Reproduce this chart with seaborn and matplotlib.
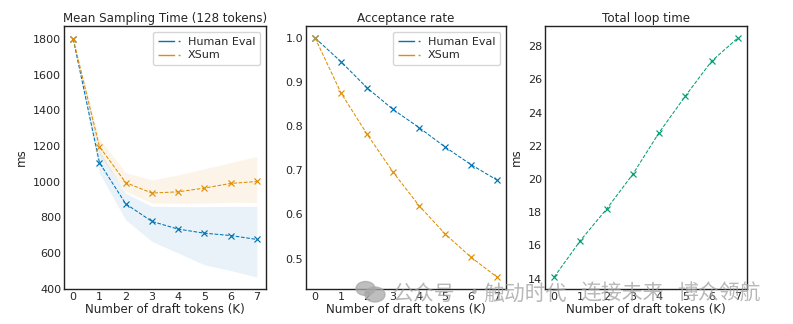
import numpy as np
import pandas as pd
import matplotlib
matplotlib.use("Agg")
import matplotlib.pyplot as plt
from matplotlib.lines import Line2D
from matplotlib.patches import Ellipse
import seaborn as sns

k = [0, 1, 2, 3, 4, 5, 6, 7]

# Mean sampling time (ms)
he_time = [1800, 1107, 876, 777, 734, 711, 698, 676]
he_time_lo = [1800, 1048, 786, 665, 600, 534, 502, 465]
he_time_hi = [1800, 1175, 935, 862, 860, 860, 862, 862]
xs_time = [1800, 1197, 995, 936, 943, 964, 990, 1001]
xs_time_lo = [1800, 1150, 945, 880, 878, 880, 884, 883]
xs_time_hi = [1800, 1240, 1051, 1010, 1038, 1072, 1107, 1141]

# Acceptance rate
he_acc = [1.0, 0.946, 0.887, 0.838, 0.797, 0.753, 0.713, 0.678]
xs_acc = [1.0, 0.875, 0.782, 0.696, 0.620, 0.556, 0.503, 0.458]

# Total loop time (ms)
loop_time = [14.1, 16.3, 18.2, 20.3, 22.8, 25.0, 27.1, 28.5]

series = ["Human Eval", "XSum"]
titles = ["Mean Sampling Time (128 tokens)", "Acceptance rate", "Total loop time"]
xlabel = "Number of draft tokens (K)"
watermark_parts = ["公众号", "·", "触动时代", "连接未来", "博众领航"]

sns.set_theme(style="white")
plt.rcParams["font.family"] = ["DejaVu Sans", "Noto Sans CJK SC"]
pal = sns.color_palette("colorblind")
c_he, c_xs, c_loop = pal[0], pal[1], pal[2]

fig = plt.figure(figsize=(7.93, 3.24), dpi=100)
W, H = 793, 324
def box(l, r, t, b):
    return [l / W, 1 - b / H, (r - l) / W, (b - t) / H]

ax1 = fig.add_axes(box(64, 266, 26, 289))
ax2 = fig.add_axes(box(306, 506, 26, 289))
ax3 = fig.add_axes(box(545, 747, 26, 289))

df_time = pd.DataFrame({"K": k * 2, "ms": he_time + xs_time,
                        "dataset": [series[0]] * 8 + [series[1]] * 8})
df_acc = pd.DataFrame({"K": k * 2, "rate": he_acc + xs_acc,
                       "dataset": [series[0]] * 8 + [series[1]] * 8})
df_loop = pd.DataFrame({"K": k, "ms": loop_time, "dataset": ["loop"] * 8})

dash = (3.5, 1.6)
kw = dict(linewidth=0.75, markersize=5, markeredgewidth=0.85, errorbar=None,
          legend=False)

sns.lineplot(data=df_time, x="K", y="ms", hue="dataset", style="dataset",
             palette=[c_he, c_xs], markers=["x", "x"], dashes=[dash, dash],
             ax=ax1, **kw)
ax1.fill_between(k, he_time_lo, he_time_hi, color=c_he, alpha=0.09, linewidth=0)
ax1.fill_between(k, xs_time_lo, xs_time_hi, color=c_xs, alpha=0.09, linewidth=0)
ax1.set_ylim(398, 1873)

sns.lineplot(data=df_acc, x="K", y="rate", hue="dataset", style="dataset",
             palette=[c_he, c_xs], markers=["x", "x"], dashes=[dash, dash],
             ax=ax2, **kw)

sns.lineplot(data=df_loop, x="K", y="ms", hue="dataset", style="dataset",
             palette=[c_loop], markers=["x"], dashes=[dash], ax=ax3, **kw)

# 'x' markers are unfilled: give them the line colour
for ax in (ax1, ax2, ax3):
    for ln in ax.lines:
        ln.set_markeredgecolor(ln.get_color())

for ax, t in zip([ax1, ax2, ax3], titles):
    ax.set_title(t, fontsize=8.6, pad=3)
    ax.set_xlabel(xlabel, fontsize=8.6, labelpad=1)
    ax.set_xticks(k)
    ax.tick_params(labelsize=8, pad=2, length=0)
    for s in ax.spines.values():
        s.set_color("#222222")
        s.set_linewidth(1.0)
ax1.set_ylabel("ms", fontsize=8.6)
ax2.set_ylabel("")
ax3.set_ylabel("ms", fontsize=8.6)
ax1.set_yticks([400, 600, 800, 1000, 1200, 1400, 1600, 1800])
ax2.set_yticks([0.5, 0.6, 0.7, 0.8, 0.9, 1.0])
ax3.set_yticks([14, 16, 18, 20, 22, 24, 26, 28])

for ax in (ax1, ax2):
    handles = [Line2D([], [], color=c, linewidth=1.0, dashes=(12, 2.5))
               for c in (c_he, c_xs)]
    leg = ax.legend(handles, series, loc="upper right", fontsize=8,
                    frameon=True, handlelength=2.0, handletextpad=0.7,
                    borderpad=0.45, labelspacing=0.35, borderaxespad=0.5)
    leg.get_frame().set_edgecolor("#cccccc")

# watermark (WeChat icon + text)
icon_color = "#a8a8a8"
fig.patches.append(Ellipse((365.5 / W, 1 - 288.5 / H), 19 / W, 14 / H,
                           transform=fig.transFigure, color=icon_color,
                           alpha=0.75, zorder=10))
fig.patches.append(Ellipse((375 / W, 1 - 294.5 / H), 20 / W, 15 / H,
                           transform=fig.transFigure, color=icon_color,
                           alpha=0.75, zorder=10))
wm_x = [393, 464, 483, 580, 677]
for x, s in zip(wm_x, watermark_parts):
    fig.text(x / W, 1 - 294 / H, s, fontsize=15, color="#a0a0a0", alpha=0.75,
             family=["Noto Sans CJK SC", "DejaVu Sans"], va="center",
             ha="left", zorder=11)

fig.savefig("out.png", dpi=100)
